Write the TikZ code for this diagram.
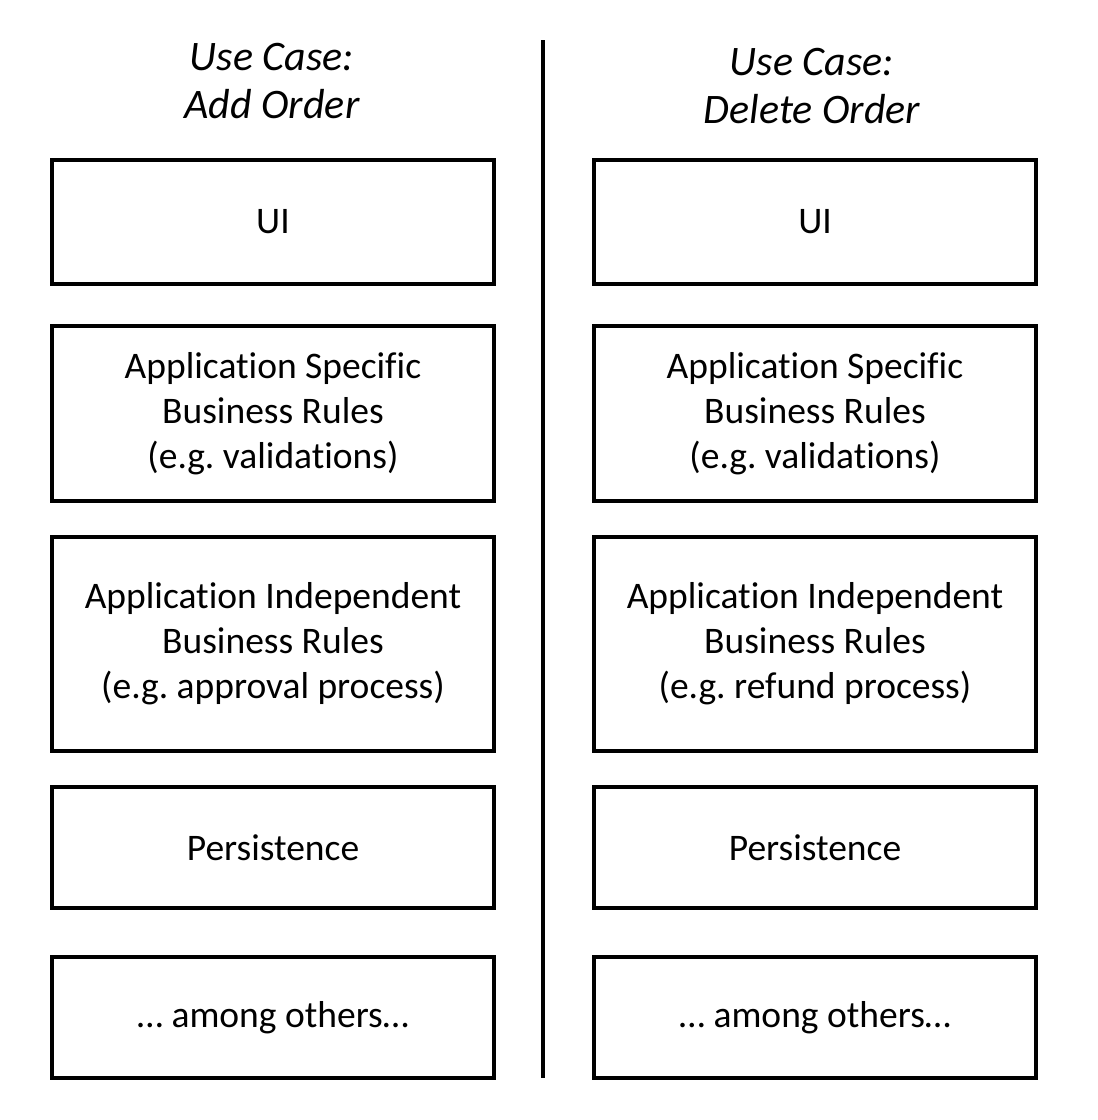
\documentclass[tikz,border=0pt]{standalone}
\usepackage{fontspec}
\setmainfont[Ligatures={NoCommon}]{Carlito}
\frenchspacing
\begin{document}
\begin{tikzpicture}[x=1pt,y=-1pt,
  layerbox/.style={draw=black, line width=4pt, align=center, inner sep=0pt,
    minimum width=442pt, font=\fontsize{37.5}{45}\selectfont},
  titletext/.style={align=center, font=\fontsize{42}{48}\selectfont\itshape}]
\useasboundingbox (0,0) rectangle (1098,1120);
% titles
\node[titletext] (t1) at (272,81) {Use Case:\\Add Order};
\node[titletext] (t2) at (812,86) {Use Case:\\Delete Order};
% divider
\coordinate (dtop) at (543,40);
\coordinate (dbot) at (543,1078);
\draw[line width=4pt] (dtop) -- (dbot);
% left column
\node[layerbox, minimum height=124pt] (l1) at (273,222) {UI};
\node[layerbox, minimum height=175pt] (l2) at (273,413.5) {Application Specific\\Business Rules\\(e.g. validations)};
\node[layerbox, minimum height=214pt] (l3) at (273,644) {Application Independent\\Business Rules\\(e.g. approval process)};
\node[layerbox, minimum height=121pt] (l4) at (273,847.5) {Persistence};
\node[layerbox, minimum height=121pt] (l5) at (273,1017.5) {… among others…};
% right column
\node[layerbox, minimum height=124pt] (r1) at (815,222) {UI};
\node[layerbox, minimum height=175pt] (r2) at (815,413.5) {Application Specific\\Business Rules\\(e.g. validations)};
\node[layerbox, minimum height=214pt] (r3) at (815,644) {Application Independent\\Business Rules\\(e.g. refund process)};
\node[layerbox, minimum height=121pt] (r4) at (815,847.5) {Persistence};
\node[layerbox, minimum height=121pt] (r5) at (815,1017.5) {… among others…};
\end{tikzpicture}
\end{document}
